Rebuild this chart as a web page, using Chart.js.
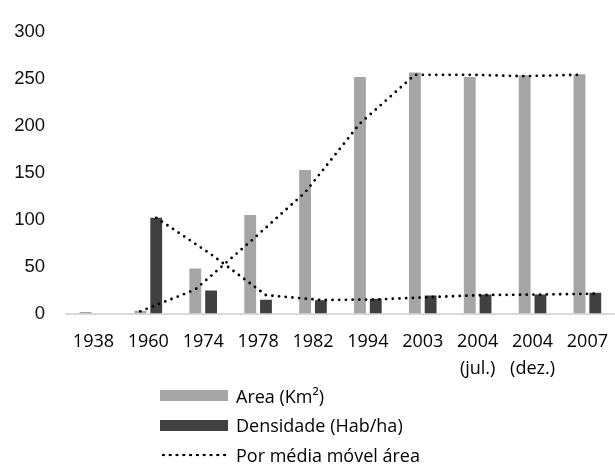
<!DOCTYPE html>
<html><head><meta charset="utf-8">
<script src="https://cdn.jsdelivr.net/npm/chart.js@4/dist/chart.umd.min.js"></script>
<style>
html,body{margin:0;padding:0;background:#fff;overflow:hidden;width:615px;height:464px;}
#wrap{position:absolute;left:0;top:0;width:623px;height:385px;}
#legend{position:absolute;left:160px;top:380.75px;font-family:'Open Sans',sans-serif;font-size:18px;color:#000;}
.row{height:29.5px;display:flex;align-items:center;white-space:nowrap;}
.sw{width:68px;height:11px;margin-right:8px;flex:none;}
.dots{width:68px;height:4px;margin-right:8px;flex:none;background-image:radial-gradient(circle,#000 1.1px,rgba(0,0,0,0) 1.6px);background-size:6.8px 4px;background-position:0 0;}
</style></head>
<body>
<div id="wrap"><canvas id="c" width="623" height="385"></canvas></div>
<div id="legend"></div>
<script>
// ---- data ----
const categories = [['1938'], ['1960'], ['1974'], ['1978'], ['1982'], ['1994'], ['2003'], ['2004', '(jul.)'], ['2004', '(dez.)'], ['2007']];
const seriesNames = ['Area (Km²)', 'Densidade (Hab/ha)', 'Por média móvel área', 'Por média móvel densidade'];
const areaValues = [1.6, 3, 48, 105, 153, 252, 257, 252, 254, 255];
const densityValues = [null, 102, 24.5, 14.7, 14, 15.7, 19.2, 20.2, 20.2, 22];
const areaMovingAvg = [null, 2.3, 25.5, 76.5, 129, 202.5, 254.5, 254.5, 253, 254.5];
const densityMovingAvg = [null, 102, 63, 19.5, 14.4, 14.9, 17.5, 19.7, 20.2, 21.1];
const yTicks = { min: 0, max: 300, step: 50 };

// trendlines sit on the centre of their own bar inside each group
const barShift = 0.145;
const atIndex = (arr, shift) => arr.map((v, i) => ({ x: i + shift, y: v }));

const dotted = {
  type: 'line', borderColor: '#000', borderWidth: 2.8, borderDash: [0, 6.7],
  borderCapStyle: 'round', pointRadius: 0, fill: false, tension: 0, order: 0
};
const barOpts = { type: 'bar', barPercentage: 0.75, categoryPercentage: 0.575, order: 2 };

new Chart(document.getElementById('c'), {
  type: 'bar',
  data: {
    datasets: [
      Object.assign({ label: seriesNames[0], data: atIndex(areaValues, 0), backgroundColor: '#a5a5a5' }, barOpts),
      Object.assign({ label: seriesNames[1], data: atIndex(densityValues, 0), backgroundColor: '#404040' }, barOpts),
      Object.assign({ label: seriesNames[2], data: atIndex(areaMovingAvg, -barShift) }, dotted),
      Object.assign({ label: seriesNames[3], data: atIndex(densityMovingAvg, barShift) }, dotted)
    ]
  },
  options: {
    responsive: false,
    animation: false,
    devicePixelRatio: 1,
    layout: { padding: { top: 24, left: 0, right: 0, bottom: 0 } },
    plugins: { legend: { display: false }, tooltip: { enabled: false } },
    events: [],
    scales: {
      x: {
        type: 'linear', offset: false, min: -0.5, max: categories.length - 0.5,
        grid: { display: false, drawTicks: false, offset: false },
        border: { display: true, color: '#d9d9d9', width: 2 },
        afterBuildTicks: s => { s.ticks = categories.map((c, i) => ({ value: i })); },
        ticks: {
          callback: v => categories[v],
          font: { family: 'Open Sans', size: 18, lineHeight: 1.5 }, color: '#000',
          padding: 15, maxRotation: 0, autoSkip: false
        },
        afterFit: s => { s.height = 71.5; }
      },
      y: {
        min: yTicks.min, max: yTicks.max,
        grid: { display: false, drawTicks: false },
        border: { display: false },
        ticks: { stepSize: yTicks.step, font: { family: 'Liberation Sans', size: 18.5 }, color: '#111', padding: 21 },
        afterFit: s => { s.width = 66; }
      }
    }
  }
});

// legend (the reference shows only the first three entries)
const legend = document.getElementById('legend');
const legendStyles = [{ cls: 'sw', bg: '#a5a5a5' }, { cls: 'sw', bg: '#404040' }, { cls: 'dots' }];
legendStyles.forEach((st, i) => {
  const row = document.createElement('div');
  row.className = 'row';
  const sw = document.createElement('span');
  sw.className = st.cls;
  if (st.bg) sw.style.background = st.bg;
  const tx = document.createElement('span');
  tx.textContent = seriesNames[i];
  row.appendChild(sw); row.appendChild(tx);
  legend.appendChild(row);
});
</script>
</body></html>
